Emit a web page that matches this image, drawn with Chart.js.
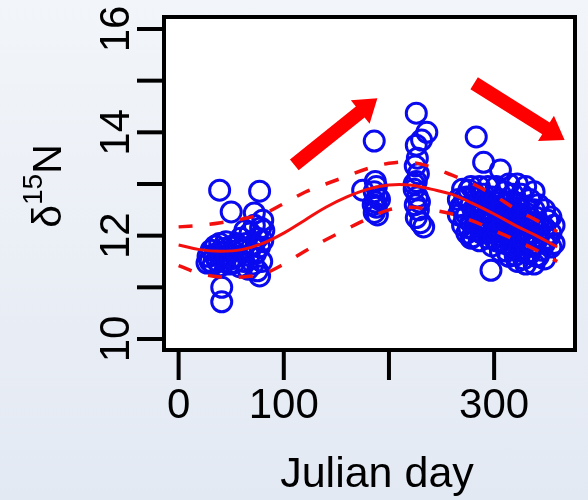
<!DOCTYPE html>
<html>
<head>
<meta charset="utf-8">
<script src="https://cdn.jsdelivr.net/npm/chart.js@4.4.1/dist/chart.umd.min.js"></script>
<style>
  html, body { margin: 0; padding: 0; }
  body { width: 588px; height: 500px; overflow: hidden;
         background: linear-gradient(to bottom, #f2f5f9, #e3e9f3); }
  canvas { display: block; }
</style>
</head>
<body>
<canvas id="myChart" width="588" height="500"></canvas>
<script>
const fitDays = [0, 20, 40, 60, 80, 100, 120, 140, 160, 180, 200, 220, 240, 260, 280, 300, 320, 340, 360];
const fitMid = [11.82, 11.73, 11.7, 11.73, 11.85, 12.05, 12.3, 12.55, 12.75, 12.9, 12.98, 12.98, 12.9, 12.8, 12.62, 12.42, 12.2, 12.0, 11.78];
const fitUpper = [12.17, 12.2, 12.25, 12.32, 12.42, 12.62, 12.84, 13.0, 13.15, 13.3, 13.4, 13.42, 13.33, 13.17, 13.0, 12.78, 12.52, 12.3, 12.08];
const fitLower = [11.42, 11.27, 11.2, 11.2, 11.26, 11.45, 11.7, 11.92, 12.13, 12.33, 12.5, 12.55, 12.5, 12.42, 12.28, 12.1, 11.92, 11.72, 11.5];

// observations: [julian day, d15N]
const winterObs = [
  [39, 12.88], [77, 12.86], [50, 12.46], [72, 12.44], [41, 11.0], [41, 10.72], [77, 11.22], [27, 11.47], [81, 12.1],
  [28, 11.6], [30, 11.5], [31, 11.72], [33, 11.45], [34, 11.62], [35, 11.8], [37, 11.5], [38, 11.68], [39, 11.85],
  [40, 11.42], [41, 11.6], [43, 11.75], [44, 11.5], [45, 11.88], [46, 11.62], [48, 11.45], [49, 11.78], [50, 11.55],
  [52, 11.7], [53, 11.48], [55, 11.85],
  [56, 11.6], [58, 11.4], [59, 11.95], [61, 11.72], [62, 11.5], [63, 12.1], [64, 11.85], [66, 11.35], [67, 11.62],
  [68, 12.05], [70, 11.8], [71, 11.45], [72, 12.2], [73, 11.65], [75, 11.95], [75, 11.32], [77, 11.78], [78, 12.15],
  [79, 11.5], [80, 11.9], [80, 12.3]
];
const summerObs = [
  [186, 13.83], [175, 12.88], [187, 13.05], [188, 12.95], [186, 12.85], [189, 12.75], [187, 12.65], [188, 12.55],
  [186, 12.45], [189, 12.4], [191, 12.7], [185, 12.6],
  [226, 14.37], [236, 14.0], [231, 13.85], [226, 13.75], [227, 13.5], [225, 13.35], [228, 13.2], [226, 13.05],
  [224, 12.9], [227, 12.75], [225, 12.6], [228, 12.5], [226, 12.35], [230, 12.25], [233, 12.17], [224, 13.0], [229, 12.65]
];
const autumnObs = [
  [283, 13.91], [297, 11.33],
  [266, 12.7], [266, 12.4], [270, 12.9], [270, 12.55], [270, 12.2], [274, 12.75], [274, 12.4], [274, 12.05],
  [278, 12.95], [278, 12.6], [278, 12.25], [278, 11.95], [282, 12.8], [282, 12.45], [282, 12.1],
  [286, 12.95], [286, 12.65], [286, 12.3], [286, 11.9], [290, 13.42], [290, 12.8], [290, 12.5], [290, 12.15],
  [294, 12.95], [294, 12.6], [294, 12.25], [294, 11.95], [298, 12.75], [298, 12.4], [298, 12.05], [298, 11.8],
  [302, 12.95], [302, 12.55], [302, 12.2], [302, 11.9], [306, 13.27], [306, 12.7], [306, 12.35], [306, 12.0], [306, 11.7],
  [310, 12.85], [310, 12.5], [310, 12.15], [310, 11.85], [314, 13.0], [314, 12.65], [314, 12.3], [314, 11.95], [314, 11.6],
  [318, 12.8], [318, 12.45], [318, 12.1], [318, 11.75], [322, 13.0], [322, 12.6], [322, 12.25], [322, 11.9], [322, 11.5],
  [326, 12.8], [326, 12.4], [326, 12.05], [326, 11.7], [330, 12.95], [330, 12.55], [330, 12.2], [330, 11.85], [330, 11.45],
  [334, 12.7], [334, 12.35], [334, 12.0], [334, 11.65], [338, 12.85], [338, 12.5], [338, 12.15], [338, 11.8], [338, 11.45],
  [342, 12.6], [342, 12.25], [342, 11.95], [342, 11.6], [348, 12.5], [348, 12.15], [348, 11.85], [348, 11.55],
  [354, 12.36], [354, 12.05], [354, 11.78],
  [268, 12.55], [272, 12.35], [272, 12.72], [276, 12.15], [276, 12.88], [280, 12.5], [280, 11.98], [284, 12.2],
  [284, 12.75], [288, 12.42], [288, 12.05], [292, 12.68], [292, 12.32], [296, 12.5], [296, 12.12], [300, 12.65],
  [300, 12.3], [300, 11.95], [304, 12.45], [304, 12.1], [308, 12.6], [308, 12.25], [308, 11.9], [312, 12.4],
  [312, 12.05], [312, 11.7], [316, 12.55], [316, 12.2], [316, 11.82], [320, 12.35], [320, 11.98], [320, 11.62],
  [324, 12.5], [324, 12.12], [324, 11.75], [328, 12.3], [328, 11.92], [328, 11.55], [332, 12.42], [332, 12.05],
  [332, 11.68], [336, 12.22], [336, 11.85], [340, 12.35], [340, 11.98], [340, 11.6], [345, 12.2], [345, 11.72],
  [351, 12.3], [351, 11.95], [357, 12.2], [357, 11.85]
];

const xTicks = [0, 100, 200, 300];
const xTickLabels = ["0", "100", "", "300"];
const yTicks = [10, 11, 12, 13, 14, 15, 16];
const yTickLabels = ["10", "", "12", "", "14", "", "16"];
// arrows: [fromDay, fromValue, toDay, toValue]
const arrows = [
  [110, 13.37, 189, 14.66],
  [281, 14.95, 367, 13.85]
];

const FONT = '"Liberation Sans", Arial, sans-serif';

function toPoints(days, vals) {
  return days.map((d, i) => ({ x: d, y: vals[i] }));
}
function obsPoints(list) {
  return list.map((p) => ({ x: p[0], y: p[1] }));
}

const plotFrame = {
  id: "plotFrame",
  beforeDatasetsDraw(chart) {
    const a = chart.chartArea;
    const ctx = chart.ctx;
    ctx.save();
    ctx.fillStyle = "#ffffff";
    ctx.fillRect(a.left, a.top, a.right - a.left, a.bottom - a.top);
    ctx.restore();
  },
  afterDatasetsDraw(chart) {
    const ctx = chart.ctx;
    const xs = chart.scales.x;
    const ys = chart.scales.y;
    ctx.save();
    ctx.fillStyle = "#ff0000";
    arrows.forEach((ar) => {
      const x0 = xs.getPixelForValue(ar[0]);
      const y0 = ys.getPixelForValue(ar[1]);
      const x1 = xs.getPixelForValue(ar[2]);
      const y1 = ys.getPixelForValue(ar[3]);
      const len = Math.hypot(x1 - x0, y1 - y0);
      const ang = Math.atan2(y1 - y0, x1 - x0);
      const headLen = 22, headHalf = 15, shaftHalf = 7;
      ctx.save();
      ctx.translate(x0, y0);
      ctx.rotate(ang);
      ctx.beginPath();
      ctx.moveTo(0, -shaftHalf);
      ctx.lineTo(len - headLen, -shaftHalf);
      ctx.lineTo(len - headLen, -headHalf);
      ctx.lineTo(len, 0);
      ctx.lineTo(len - headLen, headHalf);
      ctx.lineTo(len - headLen, shaftHalf);
      ctx.lineTo(0, shaftHalf);
      ctx.closePath();
      ctx.fill();
      ctx.restore();
    });
    ctx.restore();
  },
  afterDraw(chart) {
    const a = chart.chartArea;
    const ctx = chart.ctx;
    const xs = chart.scales.x;
    const ys = chart.scales.y;
    ctx.save();
    ctx.strokeStyle = "#000000";
    ctx.lineWidth = 4;
    ctx.strokeRect(a.left, a.top, a.right - a.left, a.bottom - a.top);

    ctx.lineCap = "butt";
    yTicks.forEach((v) => {
      const py = ys.getPixelForValue(v);
      ctx.beginPath();
      ctx.moveTo(a.left - 27, py);
      ctx.lineTo(a.left, py);
      ctx.stroke();
    });
    xTicks.forEach((v) => {
      const px = xs.getPixelForValue(v);
      ctx.beginPath();
      ctx.moveTo(px, a.bottom);
      ctx.lineTo(px, a.bottom + 30);
      ctx.stroke();
    });

    ctx.fillStyle = "#000000";
    ctx.font = "42px " + FONT;
    ctx.textAlign = "center";
    ctx.textBaseline = "alphabetic";
    xTicks.forEach((v, i) => {
      if (!xTickLabels[i]) return;
      ctx.fillText(xTickLabels[i], xs.getPixelForValue(v), 418);
    });
    yTicks.forEach((v, i) => {
      if (!yTickLabels[i]) return;
      ctx.save();
      ctx.translate(129, ys.getPixelForValue(v));
      ctx.rotate(-Math.PI / 2);
      ctx.fillText(yTickLabels[i], 0, 0);
      ctx.restore();
    });

    ctx.font = "43px " + FONT;
    ctx.fillText("Julian day", 377, 487);

    // y title: delta 15 N
    const mainFont = "41px " + FONT;
    const supFont = "28px " + FONT;
    ctx.font = mainFont;
    const wD = ctx.measureText("\u03b4").width;
    const wN = ctx.measureText("N").width;
    ctx.font = supFont;
    const wS = ctx.measureText("15").width;
    const total = wD + wS + wN;
    ctx.translate(61, 186);
    ctx.rotate(-Math.PI / 2);
    ctx.textAlign = "left";
    let cx = -total / 2;
    ctx.font = mainFont;
    ctx.fillText("\u03b4", cx, 0);
    cx += wD;
    ctx.font = supFont;
    ctx.fillText("15", cx, -19);
    cx += wS;
    ctx.font = mainFont;
    ctx.fillText("N", cx, 0);
    ctx.restore();
  }
};

function build_graph() {
  const ctx = document.getElementById("myChart");
  const allObs = winterObs.concat(summerObs, autumnObs);
  const lineStyle = { showLine: true, pointRadius: 0, borderColor: "#f40f0f", tension: 0.4, fill: false };
  window.myChart = new Chart(ctx, {
    type: "scatter",
    data: {
      datasets: [
        Object.assign({ label: "Upper", data: toPoints(fitDays, fitUpper), borderWidth: 3.5, borderDash: [14, 17] }, lineStyle),
        Object.assign({ label: "Lower", data: toPoints(fitDays, fitLower), borderWidth: 3.5, borderDash: [14, 17] }, lineStyle),
        Object.assign({ label: "Fit", data: toPoints(fitDays, fitMid), borderWidth: 3 }, lineStyle),
        {
          label: "d15N",
          data: obsPoints(allObs),
          pointRadius: 10,
          pointBorderWidth: 3,
          pointBackgroundColor: "rgba(0,0,0,0)",
          pointBorderColor: "#0a0af0",
          showLine: false,
        },
      ],
    },
    options: {
      responsive: false,
      devicePixelRatio: 1,
      animation: false,
      clip: false,
      layout: { padding: { left: 164, top: 17, right: 2, bottom: 150 } },
      plugins: { legend: { display: false }, tooltip: { enabled: false } },
      scales: {
        x: { type: "linear", display: false, min: -13.9, max: 376.9 },
        y: { type: "linear", display: false, min: 9.787, max: 16.232 },
      },
    },
    plugins: [plotFrame],
  });
}

document.addEventListener("DOMContentLoaded", function () {
  build_graph();
});
</script>
</body>
</html>
